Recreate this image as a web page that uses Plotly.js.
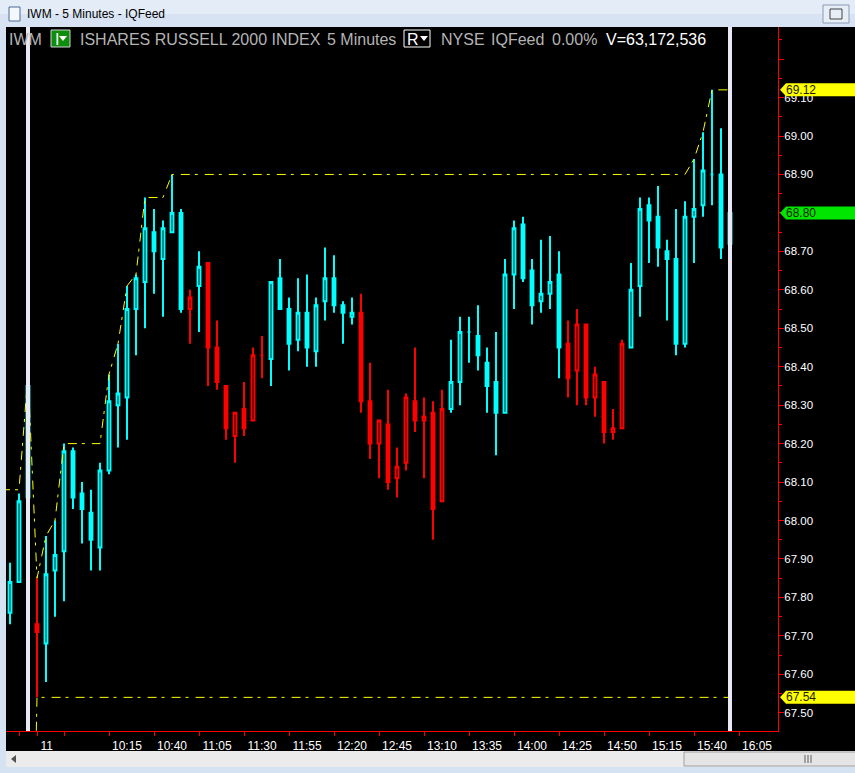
<!DOCTYPE html>
<html><head><meta charset="utf-8">
<script src="https://cdn.plot.ly/plotly-3.0.1.min.js"></script>
<style>html,body{margin:0;padding:0;background:#000;overflow:hidden}#chart{width:855px;height:773px}</style>
</head><body><div id="chart"></div>
<script>
// ---------------- data ----------------
const PRIOR_BARS = 3;            // bars of the previous session still visible
const openP  = [67.76,67.84,68.06, 67.73,67.68,67.87,67.92,68.18,68.07,68.02,67.93,68.13,68.30,68.32,68.55,68.62,68.75,68.68,68.75,68.80,68.55,68.61,68.67,68.45,68.35,68.22,68.29,68.26,68.43,68.42,68.63,68.55,68.47,68.54,68.44,68.57,68.63,68.56,68.53,68.54,68.31,68.20,68.25,68.11,68.15,68.31,68.26,68.28,68.05,68.29,68.36,68.49,68.48,68.41,68.36,68.28,68.64,68.77,68.65,68.57,68.59,68.64,68.46,68.39,68.51,68.32,68.36,68.23,68.24,68.45,68.61,68.82,68.79,68.70,68.68,68.46,68.79,68.82,68.90,68.90,68.72];
const highP  = [67.89,68.07,68.38, 67.85,67.96,68.00,68.20,68.19,68.10,68.08,68.15,68.38,68.46,68.61,68.64,68.84,68.81,68.78,68.90,68.81,68.60,68.70,68.67,68.52,68.35,68.28,68.36,68.45,68.48,68.62,68.68,68.58,68.63,68.64,68.58,68.71,68.69,68.57,68.58,68.59,68.41,68.26,68.34,68.19,68.33,68.45,68.32,68.31,68.34,68.47,68.53,68.53,68.56,68.45,68.49,68.68,68.78,68.79,68.68,68.73,68.74,68.70,68.52,68.55,68.51,68.40,68.36,68.29,68.47,68.67,68.84,68.84,68.87,68.73,68.81,68.83,68.94,69.01,69.12,69.02,68.81];
const lowP   = [67.73,67.84,68.04, 67.54,67.58,67.75,67.79,68.03,67.94,67.87,67.87,68.12,68.19,68.21,68.43,68.50,68.59,68.53,68.75,68.54,68.46,68.49,68.35,68.34,68.21,68.15,68.22,68.26,68.37,68.35,68.55,68.39,68.44,68.40,68.40,68.52,68.54,68.46,68.51,68.28,68.16,68.11,68.08,68.06,68.13,68.23,68.11,67.95,68.05,68.28,68.30,68.41,68.39,68.28,68.17,68.28,68.55,68.62,68.51,68.54,68.55,68.37,68.32,68.30,68.30,68.27,68.20,68.21,68.24,68.45,68.53,68.67,68.66,68.52,68.43,68.45,68.67,68.79,68.82,68.68,68.63];
const closeP = [67.84,68.05,68.35, 67.71,67.86,67.91,68.18,68.06,68.03,67.95,68.13,68.31,68.33,68.55,68.63,68.76,68.70,68.76,68.80,68.55,68.58,68.66,68.45,68.36,68.24,68.28,68.24,68.43,68.43,68.62,68.55,68.46,68.54,68.45,68.56,68.63,68.56,68.54,68.54,68.31,68.20,68.26,68.10,68.14,68.32,68.26,68.27,68.03,68.29,68.36,68.49,68.49,68.43,68.35,68.28,68.64,68.76,68.63,68.56,68.59,68.62,68.45,68.37,68.51,68.32,68.38,68.23,68.24,68.46,68.60,68.81,68.78,68.71,68.68,68.46,68.79,68.81,68.91,68.90,68.71,68.80];
// bar colour as painted by the platform: c = cyan, r = red
const tone = "cccrccccccccccccccccrcrrrrrrrccccccccccrrrrrrrrrrcccccccccccccrrrrrrrcccccccccccc";
const PRIOR_HIGH = 68.08;        // running high of the previous session (left edge)
const PRIOR_LOW  = 66.40;        // running low of the previous session (below the chart)
const tickBars   = [-2, 0, 3, 8, 13, 18, 23, 28, 33, 38, 43, 48, 53, 58, 63, 68, 73, 78];
const tickLabels = ["", "11\u00a0\u00a0\u00a0\u00a0\u00a0", "", "10:15","10:40","11:05","11:30","11:55","12:20","12:45","13:10","13:35","14:00","14:25","14:50","15:15","15:40","16:05"];
const priceTicks  = [67.50,67.60,67.70,67.80,67.90,68.00,68.10,68.20,68.30,68.40,68.50,68.60,68.70,68.80,68.90,69.00,69.10,69.20];
const priceLabels = ["67.50","67.60","67.70","67.80","67.90","68.00","68.10","68.20","68.30","68.40","68.50","68.60","68.70","","68.90","69.00","69.10",""];
const headerParts = [["IWM",9], ["ISHARES RUSSELL 2000 INDEX",80], ["5 Minutes",327], ["NYSE",441], ["IQFeed",491], ["0.00%",552]];
const volumeText = "V=63,172,536";
const windowTitle = "IWM - 5 Minutes - IQFeed";

// ---------------- helpers ----------------
const W = 855, H = 773, ML = 6, MR = 77, MT = 27, MB = 42;
const PW = W - ML - MR, PH = H - MT - MB;
const PX = px => (px - ML) / PW;
const PY = py => (H - MB - py) / PH;
const FONT = "Liberation Sans, Arial, sans-serif";
const CYAN = "#00ffff", RED = "#ff0000";

const xs = openP.map((_, i) => i - PRIOR_BARS);

function candleTrace(code, color) {
  const idx = xs.map((_, i) => i).filter(i => tone[i] === code);
  return {
    type: "candlestick",
    x: idx.map(i => xs[i]),
    open: idx.map(i => openP[i]), high: idx.map(i => highP[i]),
    low: idx.map(i => lowP[i]), close: idx.map(i => closeP[i]),
    increasing: {line: {color: color, width: 2}, fillcolor: "#000000"},
    decreasing: {line: {color: color, width: 2}, fillcolor: color},
    whiskerwidth: 0, hoverinfo: "skip", showlegend: false
  };
}

// running session high / low lines
const hx = [-PRIOR_BARS - 1], hy = [PRIOR_HIGH], ly = [PRIOR_LOW];
let rh = PRIOR_HIGH, rl = PRIOR_LOW;
xs.forEach((x, i) => {
  if (x === 0) { rh = -Infinity; rl = Infinity; }
  rh = Math.max(rh, highP[i]); rl = Math.min(rl, lowP[i]);
  hx.push(x); hy.push(rh); ly.push(rl);
});
const lineStyle = {color: "#ffff00", width: 1, dash: "9px,5px,3px,7px"};
const sessHigh = rh, sessLow = rl, lastClose = closeP[closeP.length - 1];

const traces = [
  candleTrace("c", CYAN),
  candleTrace("r", RED),
  {type: "scatter", mode: "lines", x: hx, y: hy, line: lineStyle, hoverinfo: "skip", showlegend: false},
  {type: "scatter", mode: "lines", x: hx, y: ly, line: lineStyle, hoverinfo: "skip", showlegend: false}
];

const shapes = [];
const annotations = [];
// window chrome
shapes.push({type: "rect", xref: "paper", yref: "paper", x0: PX(0), x1: PX(W), y0: PY(0), y1: PY(14), fillcolor: "#e3ecf7", line: {width: 0}, layer: "below"});
shapes.push({type: "rect", xref: "paper", yref: "paper", x0: PX(0), x1: PX(W), y0: PY(14), y1: PY(27), fillcolor: "#d7e3f2", line: {width: 0}, layer: "below"});
shapes.push({type: "rect", xref: "paper", yref: "paper", x0: PX(0), x1: PX(6), y0: PY(27), y1: PY(H), fillcolor: "#d5e2f1", line: {width: 0}, layer: "below"});
shapes.push({type: "rect", xref: "paper", yref: "paper", x0: PX(6), x1: PX(W), y0: PY(751), y1: PY(767), fillcolor: "#ebebeb", line: {width: 0}, layer: "below"});
shapes.push({type: "rect", xref: "paper", yref: "paper", x0: PX(0), x1: PX(W), y0: PY(767), y1: PY(H), fillcolor: "#d5e2f1", line: {width: 0}, layer: "below"});
shapes.push({type: "rect", xref: "paper", yref: "paper", x0: PX(684), x1: PX(856), y0: PY(752), y1: PY(766), fillcolor: "#e4e4e4", line: {width: 1, color: "#a0a0a0"}, layer: "below"});
[805, 808, 811].forEach(gx => shapes.push({type: "line", xref: "paper", yref: "paper", x0: PX(gx), x1: PX(gx), y0: PY(755), y1: PY(763), line: {width: 1, color: "#606060"}, layer: "below"}));
shapes.push({type: "path", xref: "paper", yref: "paper", path: `M ${PX(11)},${PY(759)} L ${PX(16)},${PY(755)} L ${PX(16)},${PY(763)} Z`, fillcolor: "#505050", line: {width: 0}, layer: "below"});
// title bar icons
shapes.push({type: "rect", xref: "paper", yref: "paper", x0: PX(9), x1: PX(20), y0: PY(7), y1: PY(21), fillcolor: "#f4f7fb", line: {width: 1, color: "#4a6a94"}, layer: "below"});
shapes.push({type: "rect", xref: "paper", yref: "paper", x0: PX(823), x1: PX(849), y0: PY(5), y1: PY(23), fillcolor: "#e8eef6", line: {width: 1, color: "#8a9bb3"}, layer: "below"});
shapes.push({type: "rect", xref: "paper", yref: "paper", x0: PX(830), x1: PX(842), y0: PY(9), y1: PY(19), fillcolor: "rgba(0,0,0,0)", line: {width: 1, color: "#404040"}, layer: "below"});
annotations.push({xref: "paper", yref: "paper", x: PX(25), y: PY(14), xanchor: "left", yanchor: "middle", text: windowTitle, showarrow: false, font: {family: FONT, size: 12, color: "#000"}});

// session markers (white vertical lines)
[xs[PRIOR_BARS - 1], xs[xs.length - 1]].forEach(x => shapes.push({type: "line", xref: "x", yref: "paper", x0: x, x1: x, y0: 0, y1: 1, line: {width: 4, color: "#e8e8f6"}, layer: "above"}));

// header row
headerParts.forEach(([t, px]) => annotations.push({xref: "paper", yref: "paper", x: PX(px - 2), y: PY(40), xanchor: "left", yanchor: "middle", text: t, showarrow: false, font: {family: FONT, size: 16, color: "#b4b4b4"}}));
annotations.push({xref: "paper", yref: "paper", x: PX(604), y: PY(40), xanchor: "left", yanchor: "middle", text: volumeText, showarrow: false, font: {family: FONT, size: 16, color: "#ffffff"}});
shapes.push({type: "rect", xref: "paper", yref: "paper", x0: PX(51), x1: PX(70), y0: PY(30), y1: PY(47), fillcolor: "#0e8c0e", line: {width: 1, color: "#d0d0d0"}, layer: "above"});
shapes.push({type: "rect", xref: "paper", yref: "paper", x0: PX(404), x1: PX(430), y0: PY(30), y1: PY(47), fillcolor: "#000000", line: {width: 1, color: "#ffffff"}, layer: "above"});
annotations.push({xref: "paper", yref: "paper", x: PX(53), y: PY(39), xanchor: "left", yanchor: "middle", text: "I", showarrow: false, font: {family: FONT, size: 16, color: "#ffffff"}});
annotations.push({xref: "paper", yref: "paper", x: PX(405), y: PY(39), xanchor: "left", yanchor: "middle", text: "R", showarrow: false, font: {family: FONT, size: 16, color: "#ffffff"}});
[[59, 67], [420, 428]].forEach(([a, b]) => shapes.push({type: "path", xref: "paper", yref: "paper", path: `M ${PX(a)},${PY(36)} L ${PX(b)},${PY(36)} L ${PX((a + b) / 2)},${PY(41)} Z`, fillcolor: "#ffffff", line: {width: 0}, layer: "above"}));

// price tags on the right axis
function tag(price, color) {
  shapes.push({type: "path", xref: "paper", yref: "y", ysizemode: "pixel", yanchor: price,
    path: `M ${PX(780)},0 L ${PX(786)},6.5 L ${PX(856)},6.5 L ${PX(856)},-6.5 L ${PX(786)},-6.5 Z`,
    fillcolor: color, line: {width: 0}, layer: "above"});
  annotations.push({xref: "paper", yref: "y", x: PX(784), y: price, xanchor: "left", yanchor: "middle", text: price.toFixed(2), showarrow: false, font: {family: FONT, size: 12, color: "#202000"}});
}
tag(sessHigh, "#ffff00");
tag(lastClose, "#00e600");
tag(sessLow, "#ffff00");

const layout = {
  width: W, height: H,
  margin: {l: ML, r: MR, t: MT, b: MB, pad: 0},
  paper_bgcolor: "#000000", plot_bgcolor: "#000000",
  showlegend: false, hovermode: false, dragmode: false,
  boxgap: 0.55,
  xaxis: {
    type: "linear", range: [(6 - 37) / 9, (778 - 37) / 9],
    showgrid: false, zeroline: false, showline: true, linecolor: RED, linewidth: 1,
    ticks: "outside", ticklen: 4, tickcolor: RED, tickwidth: 1,
    tickmode: "array", tickvals: tickBars, ticktext: tickLabels, ticklabelshift: 18,
    tickfont: {family: FONT, size: 12, color: "#ffffff"},
    rangeslider: {visible: false}, fixedrange: true
  },
  yaxis: {
    side: "right", range: [69 - (731 - 136) / 384.5, 69 + (136 - 27) / 384.5],
    showgrid: false, zeroline: false, showline: true, linecolor: RED, linewidth: 1,
    ticks: "outside", ticklen: 5, tickcolor: RED, tickwidth: 1,
    tickmode: "array", tickvals: priceTicks, ticktext: priceLabels, ticklabelstandoff: -2,
    minor: {tickmode: "linear", dtick: 0.05, tick0: 0, ticks: "outside", ticklen: 3, tickcolor: RED, showgrid: false},
    tickfont: {family: FONT, size: 11.5, color: "#ffffff"}, fixedrange: true
  },
  shapes: shapes, annotations: annotations
};

Plotly.newPlot("chart", traces, layout, {displayModeBar: false, staticPlot: true});
</script></body></html>
